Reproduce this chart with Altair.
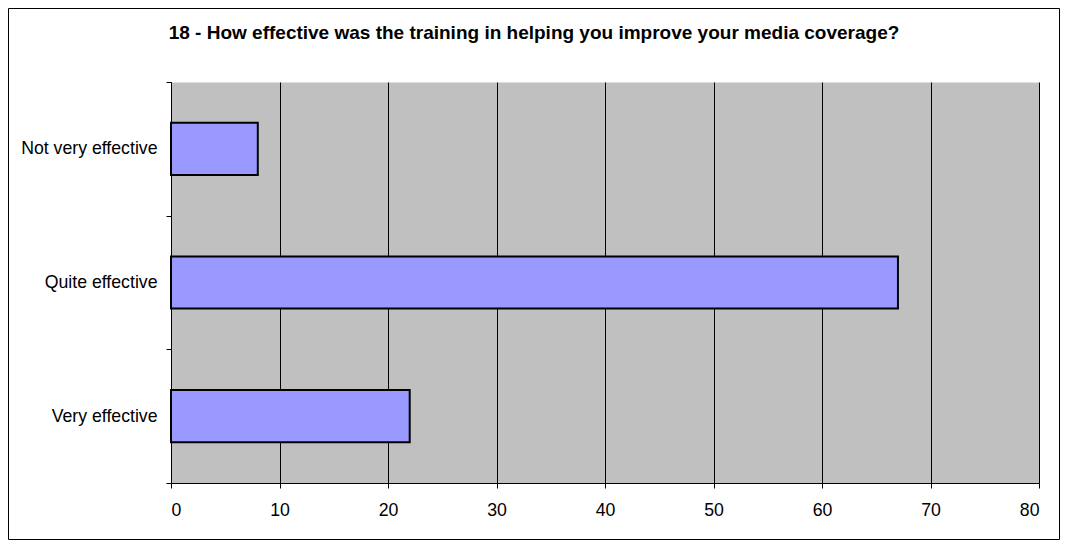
import altair as alt
import pandas as pd

categories = ["Not very effective", "Quite effective", "Very effective"]
values = [8, 67, 22]
x_ticks = [0, 10, 20, 30, 40, 50, 60, 70, 80]
title_text = "18 - How effective was the training in helping you improve your media coverage?"

df = pd.DataFrame({"category": categories, "value": values})
FONT = "Liberation Sans"

bars = alt.Chart(df).mark_bar(
    fill="#9999FF", stroke="black", strokeWidth=2,
    height=alt.RelativeBandSize(0.39),
).encode(
    y=alt.Y(
        "category:N", sort=categories,
        scale=alt.Scale(paddingInner=0, paddingOuter=0),
        axis=alt.Axis(
            title=None, tickBand="extent", labelFontSize=17.7, labelFont=FONT,
            labelColor="black", labelPadding=9, tickSize=5, tickColor="black",
            tickWidth=1, domainColor="black", domainWidth=1, grid=False,
        ),
    ),
    x=alt.X(
        "value:Q",
        scale=alt.Scale(domain=[0, 80], nice=False, zero=True),
        axis=alt.Axis(
            title=None, values=x_ticks, grid=True, gridColor="black",
            gridWidth=1, gridOpacity=1, tickSize=5, tickColor="black",
            tickWidth=1, domainColor="black", domainWidth=1,
            labelFontSize=17.7, labelFont=FONT, labelColor="black",
            labelPadding=13, format="d",
        ),
    ),
)

frame = alt.Chart(pd.DataFrame({"k": [0]})).mark_rect(
    fillOpacity=0, stroke="black", strokeWidth=1
).encode(
    x=alt.value(-162.5), x2=alt.value(888.5),
    y=alt.value(-73.5), y2=alt.value(457.5),
)

title = alt.Chart(pd.DataFrame({"t": [title_text]})).mark_text(
    font=FONT, fontSize=19, fontWeight="bold", align="center",
    baseline="alphabetic", color="black",
).encode(text="t:N", x=alt.value(363), y=alt.value(-43))

chart = alt.layer(frame, bars, title).properties(
    width=868, height=401,
    autosize=alt.AutoSizeParams(type="none"),
    padding={"left": 163, "top": 74, "right": 21, "bottom": 57},
    background="white",
).configure_view(fill="#C0C0C0", stroke="transparent")

chart.save("out.html", embed_options={"renderer": "svg", "actions": False})
